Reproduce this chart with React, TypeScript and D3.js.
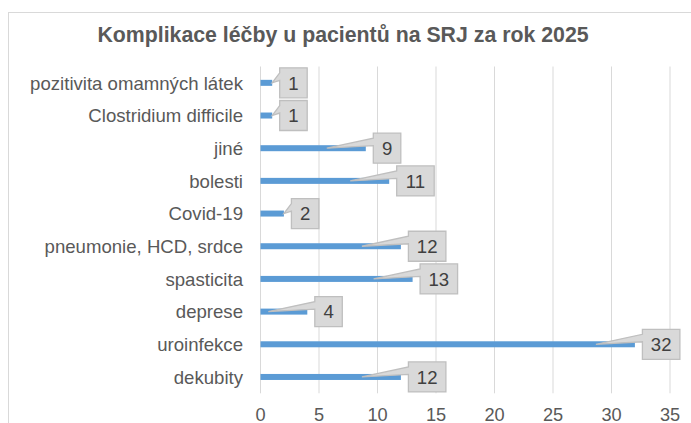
import React from "react";
import * as d3 from "d3";

const categories = [
  "pozitivita omamných látek",
  "Clostridium difficile",
  "jiné",
  "bolesti",
  "Covid-19",
  "pneumonie, HCD, srdce",
  "spasticita",
  "deprese",
  "uroinfekce",
  "dekubity",
];
const values = [1, 1, 9, 11, 2, 12, 13, 4, 32, 12];
const xTicks = [0, 5, 10, 15, 20, 25, 30, 35];
const title = "Komplikace léčby u pacientů na SRJ za rok 2025";

const W = 691;
const H = 423;
const FONT = "'Liberation Sans', Arial, sans-serif";

export default function App() {
  const x = d3.scaleLinear().domain([0, 35]).range([260.5, 670]);
  const y = d3.scaleBand<string>().domain(categories).range([66.5, 393.3]).padding(0);
  const x0 = x(0);
  const barH = 6;
  const boxH = 30;

  return (
    <svg
      width={W}
      height={H}
      style={{ position: "absolute", left: 0, top: 0, background: "#fff" }}
      fontFamily={FONT}
    >
      <rect x={8.5} y={12.5} width={720} height={500} fill="#fff" stroke="#D9D9D9" strokeWidth={1} />
      <text x={343} y={41.5} textAnchor="middle" fontSize={21.3} fontWeight="bold" fill="#595959">
        {title}
      </text>
      {xTicks.map((t) => (
        <g key={t}>
          <line x1={x(t)} x2={x(t)} y1={66.5} y2={393.3} stroke="#D9D9D9" strokeWidth={1} />
          <text x={x(t)} y={421} textAnchor="middle" fontSize={18.2} fill="#595959">
            {t}
          </text>
        </g>
      ))}
      {categories.map((c) => {
        const yc = (y(c) as number) + y.bandwidth() / 2;
        return (
          <text key={c} x={x0 - 17.5} y={yc + 6.8} textAnchor="end" fontSize={18.6} fill="#595959">
            {c}
          </text>
        );
      })}
      {categories.map((c, i) => {
        const v = values[i];
        const yc = (y(c) as number) + y.bandwidth() / 2;
        const xe = x(v);
        return (
          <rect key={"b" + c} x={x0} y={yc - barH / 2} width={xe - x0} height={barH} fill="#5B9BD5" />
        );
      })}
      {categories.map((c, i) => {
        const v = values[i];
        const yc = (y(c) as number) + y.bandwidth() / 2;
        const xe = x(v);
        const label = String(v);
        const bw = 10 * label.length + 17.5;
        const l = xe + 7.5;
        const r = l + bw;
        const t = yc - boxH / 2;
        const b = t + boxH;
        let tipX = xe - 39;
        if (tipX < x0) tipX = xe;
        const tipY = yc;
        const p = d3.path();
        p.moveTo(l, t);
        p.lineTo(r, t);
        p.lineTo(r, b);
        p.lineTo(l, b);
        p.lineTo(l, t + (5 * boxH) / 12);
        p.lineTo(tipX, tipY);
        p.lineTo(l, t + (2 * boxH) / 12);
        p.closePath();
        return (
          <g key={"l" + c}>
            <path d={p.toString()} fill="#D9D9D9" stroke="#BFBFBF" strokeWidth={1.3} />
            <text x={(l + r) / 2} y={yc + 6.8} textAnchor="middle" fontSize={18.6} fill="#404040">
              {label}
            </text>
          </g>
        );
      })}
    </svg>
  );
}
